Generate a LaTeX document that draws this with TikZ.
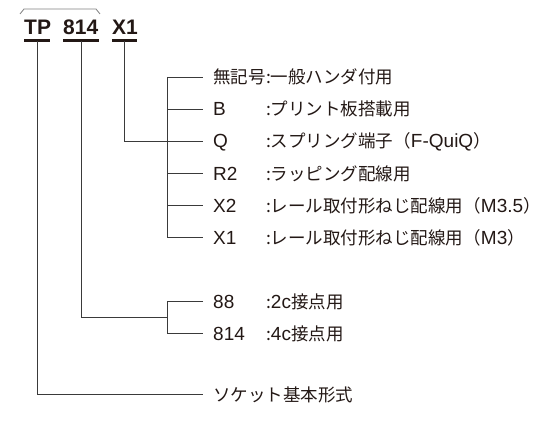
\documentclass[tikz,border=0pt]{standalone}
\usepackage{fontspec}
\setmainfont{Liberation Sans}
\newfontfamily\jpfont{Noto Sans CJK JP}
\newcommand{\jp}{\jpfont\fontsize{17.5}{21}\selectfont}
\definecolor{ink}{HTML}{231815}
\definecolor{linec}{HTML}{3A3A3A}
\begin{document}
\begin{tikzpicture}[x=1pt,y=-1pt,
  lbl/.style={anchor=base west, inner sep=0pt, text=ink, font=\fontsize{19}{22}\selectfont},
  hdr/.style={anchor=base west, inner sep=0pt, text=ink, font=\fontsize{21}{24}\selectfont\bfseries},
  conn/.style={draw=linec, line width=0.8pt},
  uline/.style={draw=ink, line width=3pt}]
\useasboundingbox (0,0) rectangle (554,441);
% header
\node[hdr] (tp) at (24,35) {TP};
\node[hdr] (n814) at (63,35) {814};
\node[hdr] (nx1) at (112,35) {X1};
\draw[conn, draw=gray] (20,14) -- (24,9) -- (96,9) -- (100,14);
\coordinate (utp) at (37,41);
\coordinate (u814) at (81,41);
\coordinate (ux1) at (124.5,41);
\draw[uline] (24,41) -- (50,41);
\draw[uline] (63,41) -- (99,41);
\draw[uline] (112,41) -- (137,41);
% keys
\def\kx{213}
\node[lbl] (k0) at (\kx,84) {\jp 無記号};
\node[lbl] (d0) at (k0.base east) {\jp :一般ハンダ付用};
\path (k0.base east) coordinate (cc);
\node[lbl] (k1) at (\kx,116) {B};
\node[lbl] (d1) at (cc |- k1.base) {\jp :プリント板搭載用};
\node[lbl] (k2) at (\kx,148) {Q};
\node[lbl] (d2) at (cc |- k2.base) {{\jp :スプリング端子（}F-QuiQ{\jp ）}};
\node[lbl] (k3) at (\kx,180) {R2};
\node[lbl] (d3) at (cc |- k3.base) {\jp :ラッピング配線用};
\node[lbl] (k4) at (\kx,212) {X2};
\node[lbl] (d4) at (cc |- k4.base) {{\jp :レール取付形ねじ配線用（}M3.5{\jp ）}};
\node[lbl] (k5) at (\kx,244) {X1};
\node[lbl] (d5) at (cc |- k5.base) {{\jp :レール取付形ねじ配線用（}M3{\jp ）}};
\node[lbl] (k6) at (\kx,308) {88};
\node[lbl] (d6) at (cc |- k6.base) {{\jp :}2c{\jp 接点用}};
\node[lbl] (k7) at (\kx,340) {814};
\node[lbl] (d7) at (cc |- k7.base) {{\jp :}4c{\jp 接点用}};
\node[lbl] (k8) at (\kx,401) {\jp ソケット基本形式};
% stub ends
\foreach \i/\y in {0/77,1/109,2/141,3/173,4/205,5/237,6/301,7/333,8/394}{
  \coordinate (s\i) at (203,\y);
}
\foreach \i/\y in {0/77,1/109,2/141,3/173,4/205,5/237,6/301,7/333}{
  \coordinate (b\i) at (167,\y);
}
% X1 branch
\draw[conn] (b0) -- (s0);
\draw[conn] (b1) -- (s1);
\draw[conn] (b2) -- (s2);
\draw[conn] (b3) -- (s3);
\draw[conn] (b4) -- (s4);
\draw[conn] (b0) -- (b5) -- (s5);
\draw[conn] (ux1) |- (b2);
% 814 branch
\coordinate (m814) at (167,317);
\draw[conn] (s6) -- (b6) -- (b7) -- (s7);
\draw[conn] (u814) |- (m814);
% TP
\draw[conn] (utp) |- (s8);
\end{tikzpicture}
\end{document}
